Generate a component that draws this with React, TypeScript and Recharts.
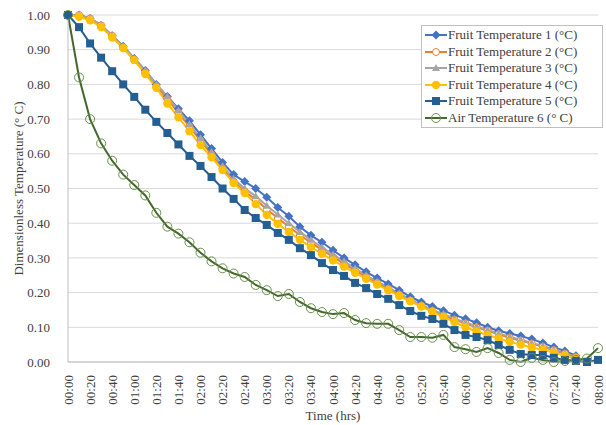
import { LineChart, Line, XAxis, YAxis, CartesianGrid } from "recharts";

const times = [
  "00:00", "00:10", "00:20", "00:30", "00:40", "00:50",
  "01:00", "01:10", "01:20", "01:30", "01:40", "01:50",
  "02:00", "02:10", "02:20", "02:30", "02:40", "02:50",
  "03:00", "03:10", "03:20", "03:30", "03:40", "03:50",
  "04:00", "04:10", "04:20", "04:30", "04:40", "04:50",
  "05:00", "05:10", "05:20", "05:30", "05:40", "05:50",
  "06:00", "06:10", "06:20", "06:30", "06:40", "06:50",
  "07:00", "07:10", "07:20", "07:30", "07:40", "07:50",
  "08:00",
];

const fruit1 = [
  1.0, 1.0, 0.99, 0.97, 0.94, 0.91, 0.875, 0.84, 0.8, 0.765, 0.73, 0.695,
  0.655, 0.615, 0.575, 0.54, 0.52, 0.5, 0.475, 0.445, 0.42, 0.39, 0.365, 0.345,
  0.322, 0.3, 0.28, 0.26, 0.242, 0.225, 0.207, 0.188, 0.173, 0.16, 0.148, 0.135,
  0.125, 0.113, 0.1, 0.09, 0.082, 0.075, 0.066, 0.055, 0.043, 0.032, 0.018, null,
  null,
];
const fruit2 = [
  1.0, 1.0, 0.99, 0.97, 0.94, 0.905, 0.87, 0.835, 0.795, 0.758, 0.718, 0.678,
  0.638, 0.598, 0.558, 0.52, 0.492, 0.468, 0.44, 0.415, 0.39, 0.366, 0.344, 0.323,
  0.303, 0.283, 0.264, 0.245, 0.228, 0.211, 0.194, 0.177, 0.162, 0.147, 0.134, 0.122,
  0.111, 0.1, 0.09, 0.08, 0.07, 0.062, 0.053, 0.044, 0.034, 0.024, 0.014, null,
  null,
];
const fruit3 = [
  1.0, 1.0, 0.99, 0.97, 0.94, 0.91, 0.875, 0.84, 0.8, 0.765, 0.725, 0.685,
  0.645, 0.605, 0.565, 0.528, 0.5, 0.478, 0.45, 0.425, 0.4, 0.375, 0.352, 0.33,
  0.31, 0.29, 0.27, 0.25, 0.232, 0.215, 0.198, 0.18, 0.165, 0.15, 0.138, 0.125,
  0.114, 0.103, 0.092, 0.082, 0.073, 0.064, 0.055, 0.046, 0.036, 0.026, 0.015, null,
  null,
];
const fruit4 = [
  1.0, 0.995, 0.985, 0.965, 0.935, 0.905, 0.87, 0.83, 0.79, 0.745, 0.705, 0.665,
  0.625, 0.59, 0.553, 0.516, 0.487, 0.455, 0.424, 0.398, 0.375, 0.352, 0.331, 0.312,
  0.293, 0.275, 0.257, 0.24, 0.223, 0.207, 0.19, 0.175, 0.16, 0.145, 0.13, 0.115,
  0.1, 0.088, 0.078, 0.068, 0.058, 0.05, 0.042, 0.035, 0.027, 0.018, 0.01, null,
  null,
];
const fruit5 = [
  1.0, 0.965, 0.918, 0.877, 0.838, 0.8, 0.764, 0.727, 0.692, 0.66, 0.627, 0.594,
  0.565, 0.533, 0.5, 0.47, 0.438, 0.415, 0.395, 0.372, 0.352, 0.328, 0.308, 0.285,
  0.265, 0.248, 0.228, 0.213, 0.196, 0.182, 0.164, 0.147, 0.133, 0.124, 0.11, 0.092,
  0.078, 0.072, 0.063, 0.049, 0.035, 0.023, 0.02, 0.02, 0.012, 0.006, 0.003, 0.0,
  0.006,
];
const air6 = [
  1.0, 0.82, 0.7, 0.63, 0.58, 0.54, 0.51, 0.48, 0.43, 0.39, 0.37, 0.345,
  0.315, 0.29, 0.27, 0.255, 0.245, 0.222, 0.207, 0.19, 0.196, 0.173, 0.155, 0.144,
  0.138, 0.141, 0.121, 0.112, 0.11, 0.11, 0.092, 0.072, 0.072, 0.07, 0.078, 0.043,
  0.037, 0.029, 0.04, 0.026, 0.006, 0.0, 0.012, 0.006, 0.0, 0.003, 0.006, 0.01,
  0.04,
];

const yTicks = [0, 0.1, 0.2, 0.3, 0.4, 0.5, 0.6, 0.7, 0.8, 0.9, 1.0];

const series = [
  { key: "f1", name: "Fruit Temperature 1 (°C)", color: "#4472C4", shape: "diamond", values: fruit1 },
  { key: "f2", name: "Fruit Temperature 2 (°C)", color: "#ED7D31", shape: "ring", values: fruit2 },
  { key: "f3", name: "Fruit Temperature 3 (°C)", color: "#A5A5A5", shape: "triangle", values: fruit3 },
  { key: "f4", name: "Fruit Temperature 4 (°C)", color: "#FFC000", shape: "circle", values: fruit4 },
  { key: "f5", name: "Fruit Temperature 5 (°C)", color: "#255E91", shape: "square", values: fruit5 },
  { key: "a6", name: "Air Temperature 6 (° C)", color: "#43682B", shape: "bigring", values: air6 },
];

const data = times.map((t, i) => {
  const row: any = { time: t };
  series.forEach((s) => (row[s.key] = s.values[i]));
  return row;
});

const FONT = "'Liberation Serif', 'Times New Roman', serif";

function Marker({ shape, color, cx, cy }: any) {
  switch (shape) {
    case "diamond":
      return <path d={`M${cx},${cy - 4.5}L${cx + 4.5},${cy}L${cx},${cy + 4.5}L${cx - 4.5},${cy}Z`} fill={color} />;
    case "ring":
      return <circle cx={cx} cy={cy} r={3.5} fill="#fff" stroke={color} strokeWidth={1} />;
    case "triangle":
      return <path d={`M${cx},${cy - 4}L${cx + 4},${cy + 3}L${cx - 4},${cy + 3}Z`} fill={color} />;
    case "circle":
      return <circle cx={cx} cy={cy} r={4.2} fill={color} />;
    case "square":
      return <rect x={cx - 4} y={cy - 4} width={8} height={8} fill={color} />;
    default:
      return <circle cx={cx} cy={cy} r={4.5} fill="none" stroke="#6B8F4E" strokeWidth={1} />;
  }
}

const makeDot = (shape: string, color: string) => (p: any) => {
  if (p.cx == null || p.cy == null || p.value == null) return <g key={p.index} />;
  return (
    <g key={p.index}>
      <Marker shape={shape} color={color} cx={p.cx} cy={p.cy} />
    </g>
  );
};

const XTick = ({ x, y, payload }: any) => (
  <text
    x={x}
    y={y + 5}
    transform={`rotate(-90 ${x} ${y + 5})`}
    textAnchor="end"
    dominantBaseline="central"
    fontSize={13}
    fontFamily={FONT}
    fill="#404040"
  >
    {payload.value}
  </text>
);

const LegendBox = () => (
  <div
    style={{
      position: "absolute",
      left: 421,
      top: 25,
      border: "1px solid #BFBFBF",
      background: "#fff",
      padding: "1px 3px",
      fontFamily: FONT,
      fontSize: 13,
      color: "#404040",
      width: 174,
    }}
  >
    {series.map((s) => (
      <div key={s.key} style={{ display: "flex", alignItems: "center", height: 16.5 }}>
        <svg width={22} height={12} style={{ marginRight: 1 }}>
          <line x1={0} y1={6} x2={22} y2={6} stroke={s.color} strokeWidth={2} />
          <Marker shape={s.shape} color={s.color} cx={11} cy={6} />
        </svg>
        <span style={{ whiteSpace: "nowrap" }}>{s.name}</span>
      </div>
    ))}
  </div>
);

export default function App() {
  return (
    <div style={{ position: "absolute", left: 0, top: 0, width: 606, height: 425, background: "#fff" }}>
      <LineChart width={606} height={425} data={data} margin={{ top: 15, right: 8, left: 0, bottom: 5 }}>
        <CartesianGrid vertical={false} stroke="#D9D9D9" />
        <XAxis
          dataKey="time"
          interval={1}
          tick={<XTick />}
          tickLine={false}
          axisLine={{ stroke: "#BFBFBF" }}
          height={58}
          label={{
            value: "Time (hrs)",
            position: "insideBottom",
            offset: 0,
            style: { fontFamily: FONT, fontSize: 13, fill: "#404040" },
          }}
        />
        <YAxis
          domain={[0, 1]}
          ticks={yTicks}
          tickFormatter={(v: number) => v.toFixed(2)}
          width={68}
          tickLine={false}
          tickMargin={12}
          axisLine={{ stroke: "#BFBFBF" }}
          tick={{ fontFamily: FONT, fontSize: 13, fill: "#404040" }}
          label={{
            value: "Dimensionless Temperature (° C)",
            angle: -90,
            position: "center",
            dx: -16,
            style: { fontFamily: FONT, fontSize: 13, fill: "#404040", textAnchor: "middle" },
          }}
        />
        {series.map((s) => (
          <Line
            key={s.key}
            dataKey={s.key}
            name={s.name}
            stroke={s.color}
            strokeWidth={2}
            dot={makeDot(s.shape, s.color)}
            activeDot={false}
            isAnimationActive={false}
          />
        ))}
      </LineChart>
      <LegendBox />
    </div>
  );
}
